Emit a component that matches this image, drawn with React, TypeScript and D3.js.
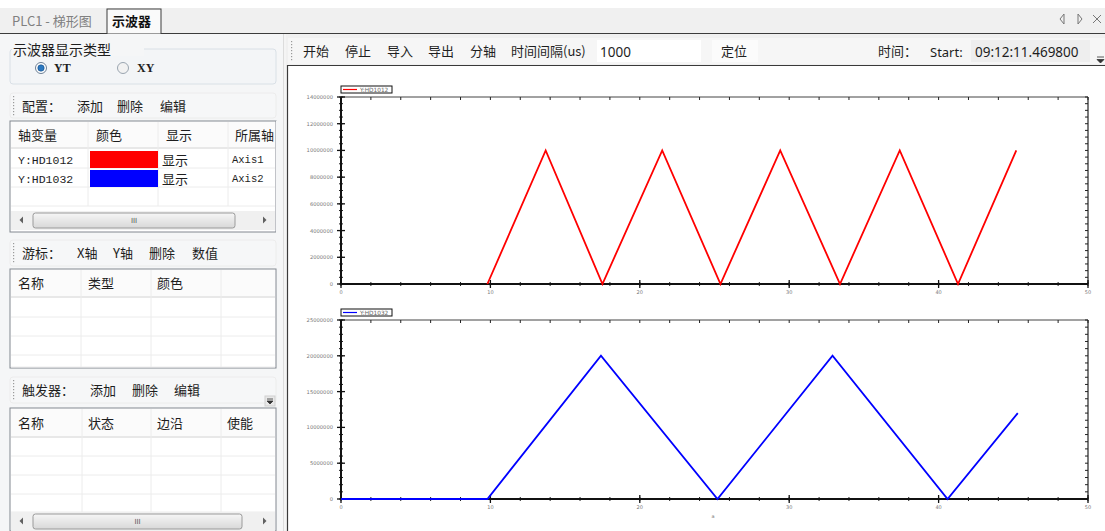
import React from "react";
import * as d3 from "d3";

// ---------- data ----------
const xTicks = [0, 10, 20, 30, 40, 50];
const topYTicks = [0, 2000000, 4000000, 6000000, 8000000, 10000000, 12000000, 14000000];
const bottomYTicks = [0, 5000000, 10000000, 15000000, 20000000, 25000000];

const redName = "Y:HD1012";
const redX = [9.8, 13.7, 17.5, 21.5, 25.4, 29.4, 33.4, 37.4, 41.3, 45.2];
const redY = [0, 10000000, 0, 10000000, 0, 10000000, 0, 10000000, 0, 10000000];

const blueName = "Y:HD1032";
const blueX = [0, 9.8, 17.4, 25.2, 32.9, 40.6, 45.3];
const blueY = [0, 0, 20000000, 0, 20000000, 0, 12000000];

const configRows = [
  { v: "Y:HD1012", c: "#ff0000", s: "显示", a: "Axis1" },
  { v: "Y:HD1032", c: "#0000ff", s: "显示", a: "Axis2" },
];

const CJK = "'Noto Sans CJK SC', 'Noto Sans', sans-serif";
const MONO = "'Liberation Mono', 'DejaVu Sans Mono', monospace";
const TXT = "#1e1e1e";

function Grip({ x, y, h }: { x: number; y: number; h: number }) {
  const dots = d3.range(y + 3, y + h - 2, 3);
  return (
    <g>
      {dots.map((d, i) => (
        <rect key={i} x={x} y={d} width={1.2} height={1.2} fill="#9a9a9a" />
      ))}
    </g>
  );
}

function Toolbar({ x, y, w, h, items }: { x: number; y: number; w: number; h: number; items: [string, number][] }) {
  return (
    <g>
      <rect x={x} y={y} width={w} height={h} rx={3} fill="#f6f7f8" stroke="#ececec" />
      <Grip x={x + 3} y={y} h={h} />
      {items.map(([t, tx], i) => (
        <text key={i} x={tx} y={y + h / 2 + 5} fontFamily={CJK} fontSize={13} fill={TXT}>
          {t}
        </text>
      ))}
    </g>
  );
}

function Scrollbar({ x, y, w, thumbStart, thumbEnd }: { x: number; y: number; w: number; thumbStart: number; thumbEnd: number }) {
  const cy = y + 9;
  return (
    <g>
      <rect x={x} y={y} width={w} height={19} fill="#f0f0f0" />
      <path d={`M${x + 12},${cy - 3.5} L${x + 8.5},${cy} L${x + 12},${cy + 3.5} Z`} fill="#606060" />
      <path d={`M${x + w - 12},${cy - 3.5} L${x + w - 8.5},${cy} L${x + w - 12},${cy + 3.5} Z`} fill="#606060" />
      <defs>
        <linearGradient id={`sg${y}`} x1="0" y1="0" x2="0" y2="1">
          <stop offset="0" stopColor="#f6f6f6" />
          <stop offset="1" stopColor="#d8d8d8" />
        </linearGradient>
      </defs>
      <rect x={thumbStart} y={y + 2} width={thumbEnd - thumbStart} height={15} rx={2.5} fill={`url(#sg${y})`} stroke="#9a9a9a" />
      <text x={(thumbStart + thumbEnd) / 2} y={cy + 3} textAnchor="middle" fontFamily="'DejaVu Sans', sans-serif" fontSize={7} fill="#555">
        III
      </text>
    </g>
  );
}

function Table({
  x, y, w, h, headers, cols, rowLines, headerH,
}: { x: number; y: number; w: number; h: number; headers: [string, number][]; cols: number[]; rowLines: number[]; headerH: number }) {
  const bottom = rowLines[rowLines.length - 1];
  return (
    <g>
      <rect x={x} y={y} width={w} height={h} fill="#ffffff" stroke="#828790" />
      <rect x={x + 1} y={y + 1} width={w - 2} height={headerH} fill="#fbfbfb" />
      <line x1={x + 1} x2={x + w - 1} y1={y + headerH} y2={y + headerH} stroke="#d5d5d5" />
      {cols.map((c, i) => (
        <line key={i} x1={c} x2={c} y1={y + 1} y2={bottom} stroke="#ececec" />
      ))}
      {rowLines.map((r, i) => (
        <line key={i} x1={x + 1} x2={x + w - 1} y1={r} y2={r} stroke="#ececec" />
      ))}
      {headers.map(([t, tx], i) => (
        <text key={i} x={tx} y={y + headerH / 2 + 5} fontFamily={CJK} fontSize={13} fill={TXT}>
          {t}
        </text>
      ))}
    </g>
  );
}

function Plot({
  top, bottom, yMax, yTicks, minorStep, xs, ys, color, name, legendY,
}: {
  top: number; bottom: number; yMax: number; yTicks: number[]; minorStep: number;
  xs: number[]; ys: number[]; color: string; name: string; legendY: number;
}) {
  const left = 341;
  const right = 1088;
  const x = d3.scaleLinear().domain([0, 50]).range([left, right]);
  const y = d3.scaleLinear().domain([0, yMax]).range([bottom, top]);
  const xMinor = d3.range(0, 50.001, 2);
  const yMinor = d3.range(0, yMax + 1, minorStep);
  const pts: [number, number][] = xs.map((v, i) => [v, ys[i]]);
  const line = d3.line<[number, number]>().x((d) => x(d[0])).y((d) => y(d[1]));
  return (
    <g>
      {/* legend */}
      <rect x={341} y={legendY} width={51} height={7} fill="#fff" stroke="#111" strokeWidth={1} />
      <line x1={343} x2={357} y1={legendY + 3.5} y2={legendY + 3.5} stroke={color} strokeWidth={1.2} />
      <text x={360} y={legendY + 5.7} fontFamily="'DejaVu Sans', sans-serif" fontSize={5.8} fill="#666">
        {name}
      </text>
      {/* frame */}
      <line x1={left} x2={right} y1={top} y2={top} stroke="#444" strokeWidth={1} />
      <line x1={right} x2={right} y1={top} y2={bottom} stroke="#333" strokeWidth={1.3} />
      {/* minor ticks */}
      {xMinor.map((v, i) => (
        <g key={"xm" + i}>
          <line x1={x(v)} x2={x(v)} y1={bottom - 2} y2={bottom + 2} stroke="#222" strokeWidth={1} />
          <line x1={x(v)} x2={x(v)} y1={top} y2={top + 3} stroke="#222" strokeWidth={1} />
        </g>
      ))}
      {yMinor.map((v, i) => (
        <g key={"ym" + i}>
          <line x1={left - 2} x2={left + 2} y1={y(v)} y2={y(v)} stroke="#222" strokeWidth={1} />
          <line x1={right - 3} x2={right} y1={y(v)} y2={y(v)} stroke="#222" strokeWidth={1} />
        </g>
      ))}
      {/* major ticks + labels */}
      {xTicks.map((v, i) => (
        <g key={"x" + i}>
          <line x1={x(v)} x2={x(v)} y1={bottom - 4} y2={bottom + 4} stroke="#111" strokeWidth={1.3} />
          <text x={x(v)} y={bottom + 10} textAnchor="middle" fontFamily="'DejaVu Sans', sans-serif" fontSize={5} fill="#777">
            {v}
          </text>
        </g>
      ))}
      {yTicks.map((v, i) => (
        <g key={"y" + i}>
          <line x1={left - 4} x2={left + 4} y1={y(v)} y2={y(v)} stroke="#111" strokeWidth={1.3} />
          <text x={left - 8} y={y(v) + 2} textAnchor="end" fontFamily="'DejaVu Sans', sans-serif" fontSize={5.2} fill="#777">
            {v}
          </text>
        </g>
      ))}
      <line x1={left} x2={left} y1={top} y2={bottom} stroke="#111" strokeWidth={2} />
      <line x1={left} x2={right} y1={bottom} y2={bottom} stroke="#111" strokeWidth={2} />
      {/* series */}
      <path d={line(pts) || ""} fill="none" stroke={color} strokeWidth={1.8} strokeLinejoin="miter" />
    </g>
  );
}

export default function App() {
  return (
    <svg
      width={1105}
      height={531}
      viewBox="0 0 1105 531"
      style={{ position: "absolute", left: 0, top: 0, display: "block" }}
    >
      {/* backgrounds */}
      <rect x={0} y={0} width={1105} height={531} fill="#f4f4f4" />
      <rect x={0} y={0} width={1105} height={8} fill="#ffffff" />
      <rect x={0} y={8} width={1105} height={26} fill="#f0f0f0" />

      {/* tab bar */}
      <text x={12} y={26} fontFamily={CJK} fontSize={13} fill="#808080">
        PLC1 - 梯形图
      </text>
      <rect x={107} y={9} width={54} height={25} fill="#fafafa" stroke="#3c3c3c" strokeWidth={1} />
      <text x={112} y={26} fontFamily={CJK} fontSize={13} fontWeight="bold" fill="#111">
        示波器
      </text>
      <line x1={0} x2={107} y1={33.5} y2={33.5} stroke="#3c3c3c" />
      <line x1={161} x2={1105} y1={33.5} y2={33.5} stroke="#3c3c3c" />
      <path d="M1064,14 L1060,19 L1064,24 Z" fill="none" stroke="#777" strokeWidth={1} />
      <path d="M1078,14 L1082,19 L1078,24 Z" fill="none" stroke="#777" strokeWidth={1} />
      <path d="M1093,15 L1101,23 M1101,15 L1093,23" stroke="#777" strokeWidth={1} />

      {/* left panel */}
      <rect x={0} y={34} width={284} height={497} fill="#f5f6f7" />
      <rect x={10} y={49} width={266} height={35} rx={3} fill="#f3f5f7" stroke="#d9e0e6" />
      <rect x={12} y={42} width={132} height={14} fill="#f5f6f7" />
      <text x={13} y={55} fontFamily={CJK} fontSize={14} fill={TXT}>
        示波器显示类型
      </text>
      <circle cx={41} cy={68} r={5.5} fill="#fff" stroke="#6c7f95" />
      <circle cx={41} cy={68} r={3.2} fill="#2b78c0" stroke="#144e86" strokeWidth={0.6} />
      <text x={54} y={72} fontFamily="'Liberation Serif', serif" fontSize={12} fontWeight="bold" fill={TXT}>
        YT
      </text>
      <circle cx={123} cy={68} r={5.5} fill="#f2f2f2" stroke="#9aa5b0" />
      <text x={137} y={72} fontFamily="'Liberation Serif', serif" fontSize={12} fontWeight="bold" fill={TXT}>
        XY
      </text>

      <Toolbar x={10} y={93} w={266} h={25} items={[["配置：", 22], ["添加", 77], ["删除", 117], ["编辑", 160]]} />

      <Table
        x={10}
        y={121}
        w={266}
        h={111}
        headerH={27}
        headers={[["轴变量", 18], ["颜色", 96], ["显示", 166], ["所属轴", 235]]}
        cols={[88, 158, 228]}
        rowLines={[168, 187, 206]}
      />
      {configRows.map((r, i) => {
        const ry = 150 + i * 19;
        return (
          <g key={i}>
            <text x={18} y={ry + 14} fontFamily={MONO} fontSize={11.5} fill={TXT}>
              {r.v}
            </text>
            <rect x={90} y={ry + 1} width={68} height={17} fill={r.c} />
            <text x={162} y={ry + 15} fontFamily={CJK} fontSize={13} fill={TXT}>
              {r.s}
            </text>
            <text x={232} y={ry + 13} fontFamily={MONO} fontSize={10.5} fill={TXT}>
              {r.a}
            </text>
          </g>
        );
      })}
      <rect x={276} y={121} width={8} height={112} fill="#f5f6f7" />
      <Scrollbar x={11} y={211} w={264} thumbStart={33} thumbEnd={235} />

      <Toolbar x={10} y={240} w={266} h={26} items={[["游标：", 22], ["X轴", 77], ["Y轴", 113], ["删除", 149], ["数值", 192]]} />
      <Table
        x={10}
        y={269}
        w={266}
        h={99}
        headerH={28}
        headers={[["名称", 18], ["类型", 88], ["颜色", 157]]}
        cols={[81, 151, 221]}
        rowLines={[317, 336, 355, 367]}
      />

      <Toolbar x={10} y={377} w={266} h={26} items={[["触发器：", 22], ["添加", 90], ["删除", 132], ["编辑", 174]]} />
      <rect x={265} y={396} width={10} height={10} fill="#e8e8e8" stroke="#cfcfcf" />
      <path d="M267,399 L273,399 M267,401 L273,401 L270,404 Z" stroke="#333" fill="#333" strokeWidth={0.8} />
      <Table
        x={10}
        y={408}
        w={266}
        h={123}
        headerH={29}
        headers={[["名称", 18], ["状态", 88], ["边沿", 157], ["使能", 227]]}
        cols={[82, 151, 221]}
        rowLines={[456, 475, 494, 512]}
      />
      <Scrollbar x={11} y={512} w={264} thumbStart={33} thumbEnd={242} />

      {/* right panel */}
      <rect x={286} y={34} width={819} height={32} fill="#f0f0f0" />
      <rect x={288} y={38} width={817} height={26} fill="#f6f6f6" />
      <Grip x={291} y={38} h={26} />
      {[
        ["开始", 303],
        ["停止", 345],
        ["导入", 387],
        ["导出", 428],
        ["分轴", 470],
        ["时间间隔(us)", 511],
      ].map(([t, tx], i) => (
        <text key={i} x={tx as number} y={56} fontFamily={CJK} fontSize={13} fill={TXT}>
          {t}
        </text>
      ))}
      <rect x={597} y={40} width={104} height={22} fill="#ffffff" />
      <text x={600} y={57} fontFamily="'Noto Sans', sans-serif" fontSize={13.5} fill={TXT}>
        1000
      </text>
      <rect x={712} y={40} width={46} height={22} fill="#fbfbfb" />
      <text x={721} y={56} fontFamily={CJK} fontSize={13} fill={TXT}>
        定位
      </text>
      <text x={878} y={56} fontFamily={CJK} fontSize={13} fill={TXT}>
        时间：
      </text>
      <text x={930} y={57} fontFamily="'Noto Sans', sans-serif" fontSize={13} fill={TXT}>
        Start:
      </text>
      <rect x={971} y={40} width={119} height={22} fill="#eeeeee" />
      <text x={975} y={57} fontFamily="'Noto Sans', sans-serif" fontSize={13.5} fill={TXT}>
        09:12:11.469800
      </text>
      <path d="M1097,57 L1104,57 M1097,59.5 L1104,59.5 L1100.5,63 Z" stroke="#333" fill="#333" strokeWidth={0.8} />

      <rect x={287} y={66} width={818} height={465} fill="#ffffff" />
      <line x1={287} x2={1105} y1={65.5} y2={65.5} stroke="#3a3a3a" strokeWidth={1.2} />
      <line x1={287.5} x2={287.5} y1={65} y2={531} stroke="#3a3a3a" strokeWidth={1.2} />
      <line x1={283.5} x2={283.5} y1={34} y2={531} stroke="#dcdcdc" />

      <Plot
        top={97}
        bottom={284}
        yMax={14000000}
        yTicks={topYTicks}
        minorStep={500000}
        xs={redX}
        ys={redY}
        color="#ff0000"
        name={redName}
        legendY={86}
      />
      <Plot
        top={320}
        bottom={499}
        yMax={25000000}
        yTicks={bottomYTicks}
        minorStep={1000000}
        xs={blueX}
        ys={blueY}
        color="#0000ff"
        name={blueName}
        legendY={309}
      />
      <text x={713} y={518} textAnchor="middle" fontFamily="'DejaVu Sans', sans-serif" fontSize={5} fill="#777">
        a
      </text>
    </svg>
  );
}
